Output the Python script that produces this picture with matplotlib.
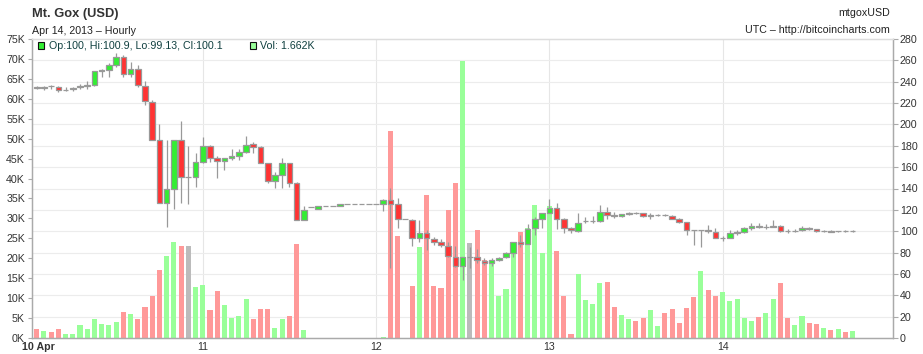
import numpy as np
import matplotlib
matplotlib.use('Agg')
import matplotlib.pyplot as plt
from matplotlib.patches import Rectangle

# ---------------- data (hourly, hours since 10 Apr 2013 00:00 UTC) ----------------
hours = list(range(1, 115))
open_ = [234.6, 233.7, 236.0, 235.3, 232.2, 232.8, 235.0, 236.0, 236.9, 250.5,
         250.9, 255.6, 263.4, 247.2, 252.2, 236.3, 221.3, 185.4, 126.1, 139.2,
         185.4, 151.0, 151.1, 165.1, 179.8, 168.2, 165.7, 168.2, 170.4, 173.8,
         181.3, 178.5, 163.5, 147.0, 152.6, 163.5, 145.4, 110.5, 122.3, 121.1,
         123.9, 123.9, 123.3, 125.2, 125.2, 125.2, 125.2, 125.2, 125.5, 129.2,
         125.2, 111.4, 110.5, 93.9, 98.0, 92.7, 89.6, 86.5, 76.2, 67.4,
         76.2, 76.2, 72.4, 70.5, 73.0, 75.5, 79.3, 90.2, 87.7, 102.7,
         111.4, 116.7, 122.0, 111.1, 102.7, 100.5, 109.3, 109.6, 109.5, 118.3,
         115.0, 114.5, 116.4, 117.5, 116.7, 114.5, 115.0, 115.3, 114.5, 111.4,
         108.3, 101.1, 100.7, 101.0, 99.6, 93.3, 93.9, 98.4, 99.6, 103.3,
         105.2, 104.0, 104.4, 105.2, 100.4, 100.0, 101.1, 103.3, 101.7, 100.2,
         100.5, 99.8, 100.3, 100.0]
high = [236.0, 236.0, 236.8, 236.2, 235.0, 235.5, 237.5, 240.3, 250.5, 251.5,
        257.2, 266.5, 265.0, 258.7, 255.6, 240.6, 222.8, 200.5, 185.4, 185.4,
        203.2, 179.8, 173.5, 188.5, 180.7, 170.4, 168.9, 177.0, 177.0, 189.1,
        183.8, 179.8, 163.5, 155.7, 168.2, 164.2, 146.4, 123.3, 122.3, 123.5,
        123.9, 123.9, 125.4, 125.2, 125.2, 125.2, 125.2, 125.2, 129.8, 140.1,
        130.8, 111.4, 111.4, 110.2, 101.1, 95.0, 92.4, 90.2, 86.1, 76.2,
        85.5, 83.0, 74.6, 74.6, 76.2, 80.2, 90.2, 96.4, 107.1, 113.6,
        117.3, 129.8, 126.0, 112.0, 104.2, 116.7, 113.3, 114.2, 124.5, 122.3,
        118.3, 116.5, 118.0, 118.0, 117.5, 117.0, 116.0, 116.0, 115.5, 112.0,
        109.0, 101.5, 101.3, 106.0, 102.7, 95.8, 101.1, 101.1, 103.6, 107.4,
        108.0, 106.7, 110.5, 105.8, 102.0, 101.7, 104.9, 104.2, 102.4, 101.0,
        101.0, 100.5, 100.8, 100.9]
low = [233.0, 232.5, 233.5, 230.5, 231.5, 231.0, 232.8, 233.5, 236.3, 244.7,
       244.7, 254.0, 244.0, 244.0, 235.3, 218.2, 185.4, 126.1, 104.2, 120.5,
       126.1, 125.5, 141.7, 163.5, 165.1, 149.5, 157.3, 167.0, 167.0, 173.5,
       173.5, 163.5, 145.1, 140.1, 140.1, 141.7, 110.5, 110.5, 122.3, 121.0,
       123.9, 123.9, 123.2, 125.2, 125.2, 125.2, 125.2, 125.2, 118.9, 65.2,
       102.7, 111.4, 86.1, 90.2, 82.4, 87.1, 85.5, 76.2, 66.6, 54.3,
       65.9, 70.5, 68.6, 67.4, 72.4, 74.6, 76.2, 84.9, 87.7, 96.4,
       102.7, 116.7, 102.0, 98.0, 98.0, 99.6, 107.4, 107.4, 109.0, 111.1,
       112.0, 113.5, 115.5, 116.5, 113.5, 111.5, 114.0, 114.0, 111.0, 107.5,
       96.4, 87.1, 85.5, 98.0, 93.3, 90.5, 93.3, 96.8, 98.6, 101.1,
       102.7, 101.7, 103.6, 99.6, 98.6, 99.3, 100.2, 101.1, 99.6, 99.6,
       99.3, 99.3, 99.6, 99.13]
close = [234.2, 235.3, 235.7, 232.2, 232.5, 234.4, 235.6, 236.6, 250.3, 251.0,
         255.3, 263.4, 247.2, 252.2, 236.9, 221.9, 185.4, 126.1, 139.2, 185.4,
         151.1, 151.0, 165.1, 179.8, 168.9, 165.7, 168.2, 170.0, 173.8, 180.7,
         178.5, 163.5, 147.0, 152.6, 163.5, 145.4, 110.5, 119.9, 122.3, 123.3,
         123.9, 123.9, 125.2, 125.2, 125.2, 125.2, 125.2, 125.2, 129.2, 125.5,
         111.4, 111.4, 93.9, 98.0, 93.9, 90.2, 87.1, 76.8, 67.4, 76.2,
         76.2, 73.0, 70.5, 73.0, 75.2, 79.3, 89.6, 88.0, 102.4, 111.1,
         116.7, 122.0, 111.4, 102.7, 100.8, 108.0, 109.6, 110.0, 118.3, 115.2,
         114.5, 115.8, 116.9, 117.2, 114.5, 115.0, 115.3, 115.0, 111.4, 108.9,
         101.1, 100.7, 101.0, 100.3, 93.3, 93.8, 98.0, 99.0, 102.7, 105.2,
         103.9, 104.4, 105.0, 100.2, 100.0, 100.6, 103.3, 102.1, 100.5, 100.4,
         99.6, 100.0, 100.0, 100.1]
volume_k = [2.2, 1.7, 1.4, 2.2, 0.9, 0.9, 3.2, 2.2, 4.7, 3.4,
            3.2, 3.9, 6.4, 5.9, 4.7, 7.7, 10.5, 17.0, 20.5, 24.0,
            23.0, 23.2, 12.7, 13.2, 6.9, 11.7, 8.2, 4.9, 5.4, 9.9,
            4.7, 7.2, 7.2, 2.4, 4.7, 5.4, 23.7, 1.9, 0.0, 0.1,
            0.0, 0.0, 0.1, 0.0, 0.0, 0.0, 0.0, 0.0, 0.25, 52.0,
            25.6, 0.0, 13.0, 22.9, 35.9, 13.0, 12.6, 32.1, 39.0, 69.6,
            23.9, 27.1, 19.6, 18.6, 10.5, 12.4, 21.2, 26.6, 27.5, 33.4,
            21.4, 33.2, 21.7, 10.5, 1.1, 16.1, 9.5, 8.5, 13.7, 14.0,
            7.8, 5.8, 4.8, 4.3, 5.0, 7.0, 3.0, 6.3, 7.3, 3.8,
            7.5, 10.3, 16.8, 12.0, 10.5, 11.5, 9.3, 9.8, 5.0, 4.3,
            5.3, 6.3, 9.8, 13.8, 5.0, 3.3, 5.5, 3.8, 3.5, 2.5,
            2.0, 2.3, 1.5, 1.662]
day_ticks = [24, 48, 72, 96]
day_labels = ['11', '12', '13', '14']
first_day_label = '10 Apr'
vol_ticks = list(range(0, 76, 5))
price_ticks = list(range(0, 281, 20))

# ---------------- styling ----------------
plt.rcParams['font.family'] = ['Liberation Sans', 'DejaVu Sans']
FS = 7.7
TXT = '#333333'
W, HH = 923, 354
fig = plt.figure(figsize=(W / 100, HH / 100), dpi=100)
ax = fig.add_axes([32 / W, 16 / HH, 861 / W, 299 / HH])
ax2 = ax.twinx()

o = np.array(open_); h = np.array(high); l = np.array(low); c = np.array(close)
v = np.array(volume_k); x = np.array(hours)

up = c > o
down = c < o
vol_col = np.where(up, '#99ff99', np.where(down, '#ff9999', '#bbbbbb'))
body_col = np.where(up, '#33ee33', np.where(down, '#ff3333', '#aaaaaa'))

# volume bars (left axis)
ax.bar(x, v, width=0.7, color=vol_col, linewidth=0, zorder=2)
ax.set_xlim(0.35, 119.6)
ax.set_ylim(0, 75)
ax.set_yticks(vol_ticks)
ax.set_yticklabels([f'{t}K' for t in vol_ticks])
ax.set_yticks(np.array(price_ticks) * 75 / 280, minor=True)
ax.set_xticks(day_ticks)
ax.set_xticklabels(day_labels)
ax.set_axisbelow(True)
ax.grid(which='minor', axis='y', color='#ececec', linewidth=0.8)
ax.grid(which='major', axis='x', color='#e6e6e6', linewidth=0.8)
ax.tick_params(axis='y', which='minor', length=0)
ax.tick_params(axis='y', which='major', length=3, width=0.8, color='#aaaaaa',
               pad=2, labelsize=FS, labelcolor=TXT)
ax.tick_params(axis='x', length=0, pad=3, labelsize=FS, labelcolor=TXT)

# candles (right axis)
ax2.vlines(x, l, h, color='#999999', linewidth=0.9, zorder=2)
ax2.bar(x, np.abs(c - o), bottom=np.minimum(o, c), width=0.78, color=body_col,
        edgecolor='#999999', linewidth=0.9, zorder=3)
ax2.set_ylim(0, 280)
ax2.set_yticks(price_ticks)
ax2.tick_params(axis='y', length=3.3, width=0.8, color='#aaaaaa', pad=1.7,
                labelsize=FS, labelcolor=TXT)

for a in (ax, ax2):
    for s in ('left', 'right', 'bottom'):
        a.spines[s].set_color('#aaaaaa')
        a.spines[s].set_linewidth(0.9)
    a.spines['top'].set_color('#dddddd')
    a.spines['top'].set_linewidth(0.9)

# first day label (left of the plot area)
fig.text(21.7 / W, 1 - 350 / HH, first_day_label, fontsize=FS, fontweight='bold',
         color=TXT, va='baseline', ha='left')

# titles
fig.text(32 / W, 1 - 17.2 / HH, 'Mt. Gox (USD)', fontsize=9.3, fontweight='bold',
         color='#333333', va='baseline')
fig.text(32 / W, 1 - 33.5 / HH, 'Apr 14, 2013 \u2013 Hourly', fontsize=FS,
         color='#222222', va='baseline')
fig.text(890 / W, 1 - 16 / HH, 'mtgoxUSD', fontsize=FS, color='#222222',
         ha='right', va='baseline')
fig.text(890 / W, 1 - 33 / HH, 'UTC \u2013 http://bitcoincharts.com', fontsize=FS,
         color='#222222', ha='right', va='baseline')

# legend-like readout of last candle
LEG = '#0f3f3f'
fig.add_artist(Rectangle((37.5 / W, 1 - 48.5 / HH), 6.3 / W, 6.3 / HH,
                         transform=fig.transFigure, facecolor='#33ee33',
                         edgecolor='#111111', linewidth=0.8))
fig.text(49 / W, 1 - 49.3 / HH,
         f'Op:{o[-1]:g}, Hi:{h[-1]:g}, Lo:{l[-1]:g}, Cl:{c[-1]:g}',
         fontsize=FS, color=LEG, va='baseline')
fig.add_artist(Rectangle((249.5 / W, 1 - 48.5 / HH), 6.3 / W, 6.3 / HH,
                         transform=fig.transFigure, facecolor='#99ff99',
                         edgecolor='#111111', linewidth=0.8))
fig.text(259.5 / W, 1 - 49.3 / HH, f'Vol: {v[-1]:.3f}K', fontsize=FS, color=LEG,
         va='baseline')

fig.savefig('out.png', dpi=100)
